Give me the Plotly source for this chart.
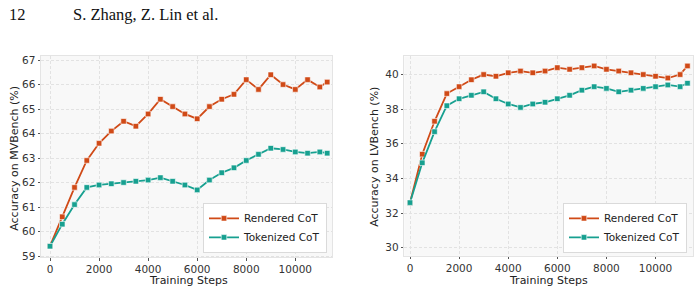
import plotly.graph_objects as go

steps = [0, 500, 1000, 1500, 2000, 2500, 3000, 3500, 4000, 4500, 5000, 5500,
         6000, 6500, 7000, 7500, 8000, 8500, 9000, 9500, 10000, 10500, 11000, 11300]

mv_rendered = [59.4, 60.6, 61.8, 62.9, 63.6, 64.1, 64.5, 64.3, 64.8, 65.4, 65.1, 64.8,
               64.6, 65.1, 65.4, 65.6, 66.2, 65.8, 66.4, 66.0, 65.8, 66.2, 65.9, 66.1]
mv_tokenized = [59.4, 60.3, 61.1, 61.8, 61.9, 61.95, 62.0, 62.05, 62.1, 62.2, 62.05, 61.9,
                61.7, 62.1, 62.4, 62.6, 62.9, 63.15, 63.4, 63.35, 63.25, 63.2, 63.25, 63.2]

lv_rendered = [32.6, 35.4, 37.3, 38.9, 39.3, 39.7, 40.0, 39.9, 40.1, 40.2, 40.1, 40.2,
               40.4, 40.3, 40.4, 40.5, 40.3, 40.2, 40.1, 40.0, 39.9, 39.8, 40.0, 40.5]
lv_tokenized = [32.6, 34.9, 36.7, 38.2, 38.6, 38.8, 39.0, 38.6, 38.3, 38.1, 38.3, 38.4,
                38.6, 38.8, 39.1, 39.3, 39.2, 39.0, 39.1, 39.2, 39.3, 39.4, 39.3, 39.5]

series_names = ["Rendered CoT", "Tokenized CoT"]
x_ticks = [0, 2000, 4000, 6000, 8000, 10000]
x_tick_labels = ["0", "2000", "4000", "6000", "8000", "10000"]
mv_y_ticks = [59, 60, 61, 62, 63, 64, 65, 66, 67]
lv_y_ticks = [30, 32, 34, 36, 38, 40]

header_page = "12"
header_authors = "S. Zhang, Z. Lin et al."

C_REN = "#d04a17"
C_TOK = "#17a090"
W, H = 699, 297

fig = go.Figure()

def add(x, y, name, color, xa, ya, legend):
    fig.add_trace(go.Scatter(
        x=x, y=y, name=name, mode="lines+markers",
        line=dict(color=color, width=1.8),
        marker=dict(symbol="square", size=5.5, color=color,
                    line=dict(color="white", width=0.6)),
        xaxis=xa, yaxis=ya, legend=legend))

add(steps, mv_rendered, series_names[0], C_REN, "x", "y", "legend")
add(steps, mv_tokenized, series_names[1], C_TOK, "x", "y", "legend")
add(steps, lv_rendered, series_names[0], C_REN, "x2", "y2", "legend2")
add(steps, lv_tokenized, series_names[1], C_TOK, "x2", "y2", "legend2")

font = "DejaVu Sans"
grid = dict(showgrid=True, gridcolor="#e2e2e2", griddash="3px,2px", gridwidth=0.7,
            zeroline=False, showline=True, mirror=True, linecolor="#e4e4e4", linewidth=1,
            ticks="outside", ticklen=2.5, tickcolor="#555", tickwidth=0.8,
            tickfont=dict(family=font, size=10.5, color="#333"))

def px_x(p):
    return p / W

def px_y(p):
    return 1 - p / H

leg = dict(xanchor="right", yanchor="bottom",
           bgcolor="white", bordercolor="#dadada", borderwidth=1,
           font=dict(family=font, size=10.5, color="#222"),
           tracegroupgap=0, itemwidth=30)

fig.update_layout(
    width=W, height=H, margin=dict(l=0, r=0, t=0, b=0),
    paper_bgcolor="white", plot_bgcolor="#f8f8f8",
    xaxis=dict(domain=[px_x(41), px_x(332)], range=[-367, 11496], tickvals=x_ticks,
               ticktext=x_tick_labels, anchor="y", **grid),
    yaxis=dict(domain=[px_y(260.5), px_y(55)], range=[58.95, 67.17], tickvals=mv_y_ticks,
               anchor="x", **grid),
    xaxis2=dict(domain=[px_x(404.3), px_x(693)], range=[-232, 11525], tickvals=x_ticks,
                ticktext=x_tick_labels, anchor="y2", **grid),
    yaxis2=dict(domain=[px_y(259), px_y(55.5)], range=[29.53, 41.05], tickvals=lv_y_ticks,
                anchor="x2", **grid),
    legend=dict(x=px_x(327), y=px_y(256), **leg),
    legend2=dict(x=px_x(687), y=px_y(256), **leg),
    showlegend=True,
)

annots = [
    dict(text="Accuracy on MVBench (%)", x=px_x(15), y=px_y(160), textangle=-90,
         font=dict(family=font, size=11, color="#222")),
    dict(text="Accuracy on LVBench (%)", x=px_x(375), y=px_y(158), textangle=-90,
         font=dict(family=font, size=11, color="#222")),
    dict(text="Training Steps", x=px_x(188), y=px_y(284.5),
         font=dict(family=font, size=11, color="#222")),
    dict(text="Training Steps", x=px_x(548), y=px_y(284.5),
         font=dict(family=font, size=11, color="#222")),
    dict(text=header_page, x=px_x(7), y=px_y(13), xanchor="left",
         font=dict(family="Liberation Serif", size=16.5, color="#111")),
    dict(text=header_authors, x=px_x(71), y=px_y(13), xanchor="left",
         font=dict(family="Liberation Serif", size=16.5, color="#111")),
]
for a in annots:
    a.update(xref="paper", yref="paper", showarrow=False)
    a.setdefault("xanchor", "center")
    a.setdefault("yanchor", "middle")
fig.update_layout(annotations=annots)

fig.write_html("out.html")
